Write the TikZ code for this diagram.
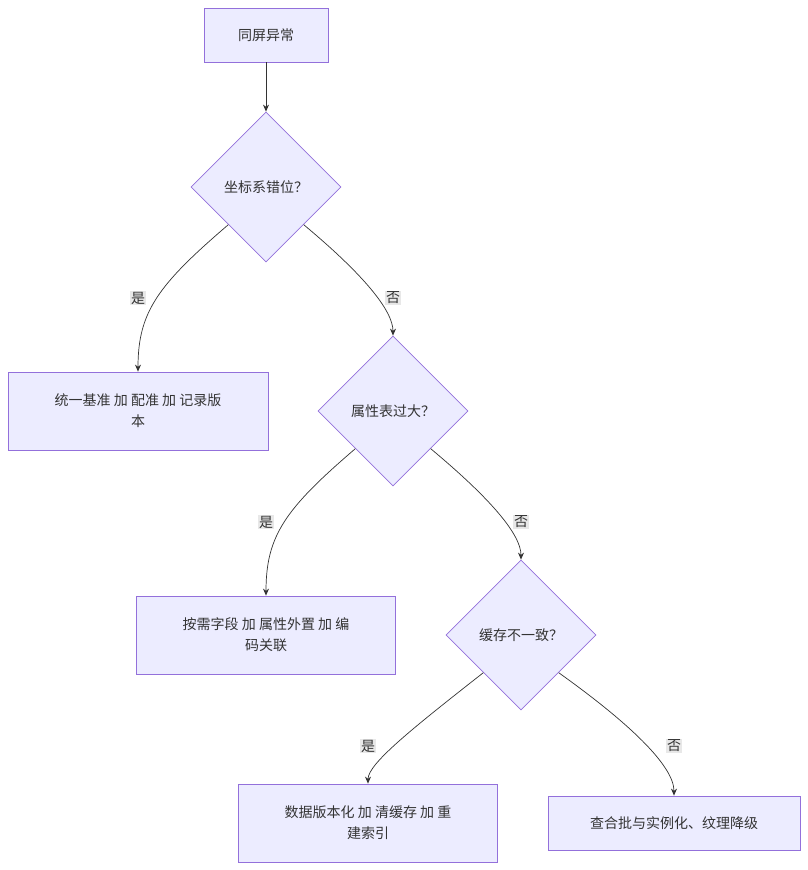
\documentclass[tikz,border=0pt]{standalone}
\usepackage{fontspec}
\setmainfont{Noto Sans CJK SC}
\usetikzlibrary{shapes.geometric,arrows.meta}
\definecolor{nfill}{HTML}{ECECFF}
\definecolor{nline}{HTML}{9370DB}
\definecolor{txt}{HTML}{333333}
\begin{document}
\begin{tikzpicture}[x=1pt,y=-1pt,
  box/.style={draw=nline,fill=nfill,line width=0.8pt,text=txt,font=\fontsize{14}{21}\selectfont,align=center,inner sep=0pt},
  dia/.style={diamond,draw=nline,fill=nfill,line width=0.8pt,text=txt,font=\fontsize{14}{21}\selectfont,minimum width=150pt,minimum height=150pt,inner sep=0pt},
  lbl/.style={fill=black!9,text=txt,font=\fontsize{14}{16}\selectfont,inner sep=1pt},
  arr/.style={draw=black!80,line width=0.7pt,-{Stealth[length=7pt,width=6pt]}}]
\useasboundingbox (0,0) rectangle (808,870);
\node[box,minimum width=124pt,minimum height=54pt] (s) at (266,35) {同屏异常};
\node[dia] (d1) at (266,187) {坐标系错位？};
\node[box,minimum width=260pt,minimum height=78pt] (a1) at (138,411) {统一基准 加 配准 加 记录版\\本};
\node[dia] (d2) at (393,411) {属性表过大？};
\node[box,minimum width=259pt,minimum height=78pt] (a2) at (266,635) {按需字段 加 属性外置 加 编\\码关联};
\node[dia] (d3) at (521,635) {缓存不一致？};
\node[box,minimum width=259pt,minimum height=78pt] (a3) at (368,823) {数据版本化 加 清缓存 加 重\\建索引};
\node[box,minimum width=252pt,minimum height=54pt] (a4) at (674,823) {查合批与实例化、纹理降级};
\draw[arr] (s) -- (d1);
\draw[arr] (d1.south west) .. controls +(-70,60) and +(0,-60) .. (a1.north);
\draw[arr] (d1.south east) .. controls +(60,50) and +(0,-25) .. (d2.north);
\draw[arr] (d2.south west) .. controls +(-70,60) and +(0,-60) .. (a2.north);
\draw[arr] (d2.south east) .. controls +(60,50) and +(0,-25) .. (d3.north);
\draw[arr] (d3.south west) .. controls +(-70,55) and +(0,-20) .. (a3.north);
\draw[arr] (d3.south east) .. controls +(70,50) and +(0,-30) .. (a4.north);
\node[lbl] (l1) at (138,298) {是};
\node[lbl] (l2) at (393,298) {否};
\node[lbl] (l3) at (266,522) {是};
\node[lbl] (l4) at (521,522) {否};
\node[lbl] (l5) at (368,746) {是};
\node[lbl] (l6) at (674,746) {否};
\end{tikzpicture}
\end{document}
